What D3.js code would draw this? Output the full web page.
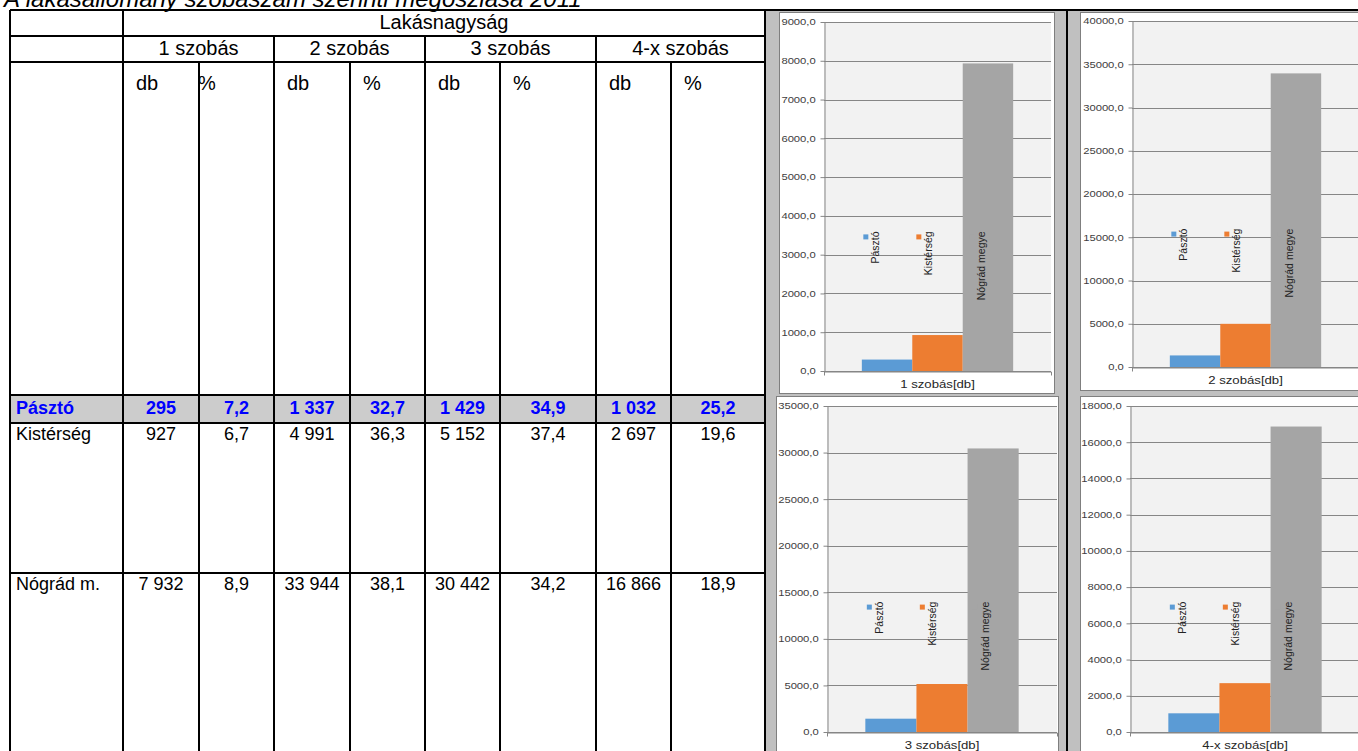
<!DOCTYPE html>
<html>
<head>
<meta charset="utf-8">
<script src="https://cdn.jsdelivr.net/npm/d3@7"></script>
<style>
  body { margin: 0; background: #fff; }
  svg { display: block; font-family: "Liberation Sans", Arial, sans-serif; }
</style>
</head>
<body>
<svg id="page" width="1358" height="751"></svg>
<script>
const title = "A lakásállomány szobaszám szerinti megoszlása 2011";
const headerTop = "Lakásnagyság";
const roomGroups = ["1 szobás", "2 szobás", "3 szobás", "4-x szobás"];
const unitLabels = ["db", "%"];
const areaNames = ["Pásztó", "Kistérség", "Nógrád m."];
const seriesNames = ["Pásztó", "Kistérség", "Nógrád megye"];
const pasztoDb = [295, 1337, 1429, 1032];
const pasztoPct = [7.2, 32.7, 34.9, 25.2];
const kistersegDb = [927, 4991, 5152, 2697];
const kistersegPct = [6.7, 36.3, 37.4, 19.6];
const nogradDb = [7932, 33944, 30442, 16866];
const nogradPct = [8.9, 38.1, 34.2, 18.9];
const axisMax = [9000, 40000, 35000, 18000];
const axisStep = [1000, 5000, 5000, 2000];
const chartTitles = ["1 szobás[db]", "2 szobás[db]", "3 szobás[db]", "4-x szobás[db]"];
const seriesColors = ["#5b9bd5", "#ed7d31", "#a5a5a5"];

const locale = d3.formatLocale({ decimal: ",", thousands: " ", grouping: [3], currency: ["", ""] });
const fmtDb = locale.format(",d");
const fmtPct = locale.format(".1f");

const svg = d3.select("#page");

// ---- title (cut off at the top, like the scan)
svg.append("text")
  .attr("x", 4)
  .attr("y", 7)
  .attr("font-size", 24)
  .attr("font-style", "italic")
  .text(title);

// ---- table
const colX = [10, 123, 199, 274, 350, 425, 500, 596, 671, 765];
const rowTop = [395, 423, 573];
const rowBase = [414, 440, 590];
const tableBottom = 760;

const rows = [
  { name: areaNames[0], db: pasztoDb, pct: pasztoPct, bold: true },
  { name: areaNames[1], db: kistersegDb, pct: kistersegPct, bold: false },
  { name: areaNames[2], db: nogradDb, pct: nogradPct, bold: false },
];

const table = svg.append("g").attr("id", "table");

table.append("rect")
  .attr("x", colX[0])
  .attr("y", rowTop[0])
  .attr("width", colX[9] - colX[0])
  .attr("height", rowTop[1] - rowTop[0])
  .attr("fill", "#cccccc");

// header texts
table.append("text")
  .attr("x", (colX[1] + colX[9]) / 2)
  .attr("y", 29)
  .attr("text-anchor", "middle")
  .attr("font-size", 20)
  .text(headerTop);

table.selectAll(".group-label")
  .data(roomGroups)
  .join("text")
  .attr("class", "group-label")
  .attr("x", (d, i) => (colX[1 + 2 * i] + colX[3 + 2 * i]) / 2)
  .attr("y", 55)
  .attr("text-anchor", "middle")
  .attr("font-size", 20)
  .text((d) => d);

const unitCells = d3.range(8).map((k) => ({ k, label: unitLabels[k % 2] }));
table.selectAll(".unit-label")
  .data(unitCells)
  .join("text")
  .attr("class", "unit-label")
  .attr("x", (d) => colX[1 + d.k] + (d.k === 1 ? -1 : 13))
  .attr("y", 90)
  .attr("font-size", 20)
  .text((d) => d.label);

// data rows
rows.forEach((row, r) => {
  const color = row.bold ? "#0000ff" : "#000";
  const weight = row.bold ? "bold" : "normal";
  table.append("text")
    .attr("x", 16)
    .attr("y", rowBase[r])
    .attr("font-size", 18)
    .attr("font-weight", weight)
    .attr("fill", color)
    .text(row.name);

  const cells = [];
  roomGroups.forEach((g, i) => {
    cells.push({ col: 1 + 2 * i, text: fmtDb(row.db[i]) });
    cells.push({ col: 2 + 2 * i, text: fmtPct(row.pct[i]) });
  });

  table.selectAll(`.cell-${r}`)
    .data(cells)
    .join("text")
    .attr("class", `cell-${r}`)
    .attr("x", (d) => (colX[d.col] + colX[d.col + 1]) / 2)
    .attr("y", rowBase[r])
    .attr("text-anchor", "middle")
    .attr("font-size", 18)
    .attr("font-weight", weight)
    .attr("fill", color)
    .text((d) => d.text);
});

// grid lines of the table
const hLines = [
  { y: 36, x1: colX[0], x2: colX[9] },
  { y: 62, x1: colX[0], x2: colX[9] },
  ...rowTop.map((y) => ({ y, x1: colX[0], x2: colX[9] })),
];
const vLines = [
  { x: colX[0], y1: 10 },
  { x: colX[1], y1: 10 },
  { x: colX[3], y1: 36 },
  { x: colX[5], y1: 36 },
  { x: colX[7], y1: 36 },
  { x: colX[2], y1: 62 },
  { x: colX[4], y1: 62 },
  { x: colX[6], y1: 62 },
  { x: colX[8], y1: 62 },
];

// ---- chart zone background
const zone = svg.append("g").attr("id", "charts");
zone.append("rect")
  .attr("x", 766)
  .attr("y", 11)
  .attr("width", 1358 - 766)
  .attr("height", 751 - 11)
  .attr("fill", "#c0c0c0");

const lines = svg.append("g").attr("stroke", "#000").attr("stroke-width", 2);
lines.selectAll(".h")
  .data(hLines)
  .join("line")
  .attr("x1", (d) => d.x1)
  .attr("x2", (d) => d.x2)
  .attr("y1", (d) => d.y)
  .attr("y2", (d) => d.y);
lines.selectAll(".v")
  .data(vLines)
  .join("line")
  .attr("x1", (d) => d.x)
  .attr("x2", (d) => d.x)
  .attr("y1", (d) => d.y1)
  .attr("y2", tableBottom);
lines.append("line").attr("x1", colX[0]).attr("x2", 1358).attr("y1", 10).attr("y2", 10);
lines.append("line").attr("x1", colX[9]).attr("x2", colX[9]).attr("y1", 10).attr("y2", tableBottom);
lines.append("line").attr("x1", 1067).attr("x2", 1067).attr("y1", 10).attr("y2", tableBottom);

// ---- the four small charts
const layouts = [
  { panel: [779, 12, 1054, 393], plot: [824, 22, 1051, 371] },
  { panel: [1080, 12, 1380, 390], plot: [1132, 21, 1359, 367] },
  { panel: [776, 396, 1058, 780], plot: [827, 406, 1057, 732] },
  { panel: [1080, 396, 1380, 780], plot: [1130, 406, 1360, 732] },
];

const stretch = 1.25;

function drawChart(i) {
  const L = layouts[i];
  const [px0, py0, px1, py1] = L.panel;
  const [x0, yTop, x1, yZero] = L.plot;
  const values = [pasztoDb[i], kistersegDb[i], nogradDb[i]];

  const g = zone.append("g").attr("class", "chart");

  g.append("rect")
    .attr("x", px0 + 0.5)
    .attr("y", py0 + 0.5)
    .attr("width", px1 - px0)
    .attr("height", py1 - py0)
    .attr("fill", "#fff")
    .attr("stroke", "#7f7f7f");

  g.append("rect")
    .attr("x", x0)
    .attr("y", yTop)
    .attr("width", x1 - x0)
    .attr("height", yZero - yTop)
    .attr("fill", "#f2f2f2");

  const y = d3.scaleLinear().domain([0, axisMax[i]]).range([yZero, yTop]);
  const xOuter = d3.scaleBand().domain([chartTitles[i]]).range([x0, x1]).paddingOuter(0.25).paddingInner(0);
  const xInner = d3.scaleBand().domain(seriesNames).range([0, xOuter.bandwidth()]);
  const ticks = d3.range(0, axisMax[i] + 1, axisStep[i]);

  g.append("g")
    .selectAll("line")
    .data(ticks)
    .join("line")
    .attr("x1", x0)
    .attr("x2", x1)
    .attr("y1", (d) => Math.round(y(d)) + 0.5)
    .attr("y2", (d) => Math.round(y(d)) + 0.5)
    .attr("stroke", "#868686");

  g.append("g")
    .selectAll("rect")
    .data(values)
    .join("rect")
    .attr("x", (d, j) => xOuter(chartTitles[i]) + xInner(seriesNames[j]))
    .attr("y", (d) => y(d))
    .attr("width", xInner.bandwidth())
    .attr("height", (d) => yZero - y(d))
    .attr("fill", (d, j) => seriesColors[j]);

  const yAxis = g.append("g")
    .attr("transform", `translate(${x0 + 0.5},0)`)
    .call(d3.axisLeft(y).tickValues(ticks).tickSize(4).tickSizeOuter(0).tickPadding(3)
      .tickFormat(locale.format(".1f")));
  yAxis.select(".domain").attr("stroke", "#868686");
  yAxis.selectAll(".tick line").attr("stroke", "#868686");
  yAxis.selectAll(".tick text")
    .attr("font-family", "'Liberation Sans', Arial, sans-serif")
    .attr("font-size", 9)
    .attr("fill", "#404040")
    .attr("transform", `scale(${stretch},1)`);

  const xAxis = g.append("g")
    .attr("transform", `translate(0,${Math.round(yZero) + 0.5})`)
    .call(d3.axisBottom(xOuter).tickSize(0).tickSizeOuter(4).tickPadding(9));
  xAxis.select(".domain").attr("stroke", "#868686");
  xAxis.selectAll(".tick text")
    .attr("font-family", "'Liberation Sans', Arial, sans-serif")
    .attr("font-size", 11)
    .attr("fill", "#262626")
    .attr("transform", `scale(${stretch - 0.05},1)`);

  // legend with rotated labels, placed inside the plot area
  const groupLeft = xOuter(chartTitles[i]);
  const textTop = yTop + 0.6 * (yZero - yTop);
  const legend = g.append("g")
    .selectAll("g")
    .data(seriesNames)
    .join("g")
    .attr("transform", (d, j) => `translate(${groupLeft + 4 + j * 53},${textTop})`);

  legend.append("rect")
    .attr("x", -2.5)
    .attr("y", 3)
    .attr("width", 5)
    .attr("height", 5)
    .attr("fill", (d, j) => seriesColors[j]);

  legend.append("text")
    .attr("transform", "translate(13.5,0) rotate(-90)")
    .attr("text-anchor", "end")
    .attr("font-size", 10.5)
    .attr("fill", "#222")
    .text((d) => d);
}

d3.range(4).forEach(drawChart);
</script>
</body>
</html>
